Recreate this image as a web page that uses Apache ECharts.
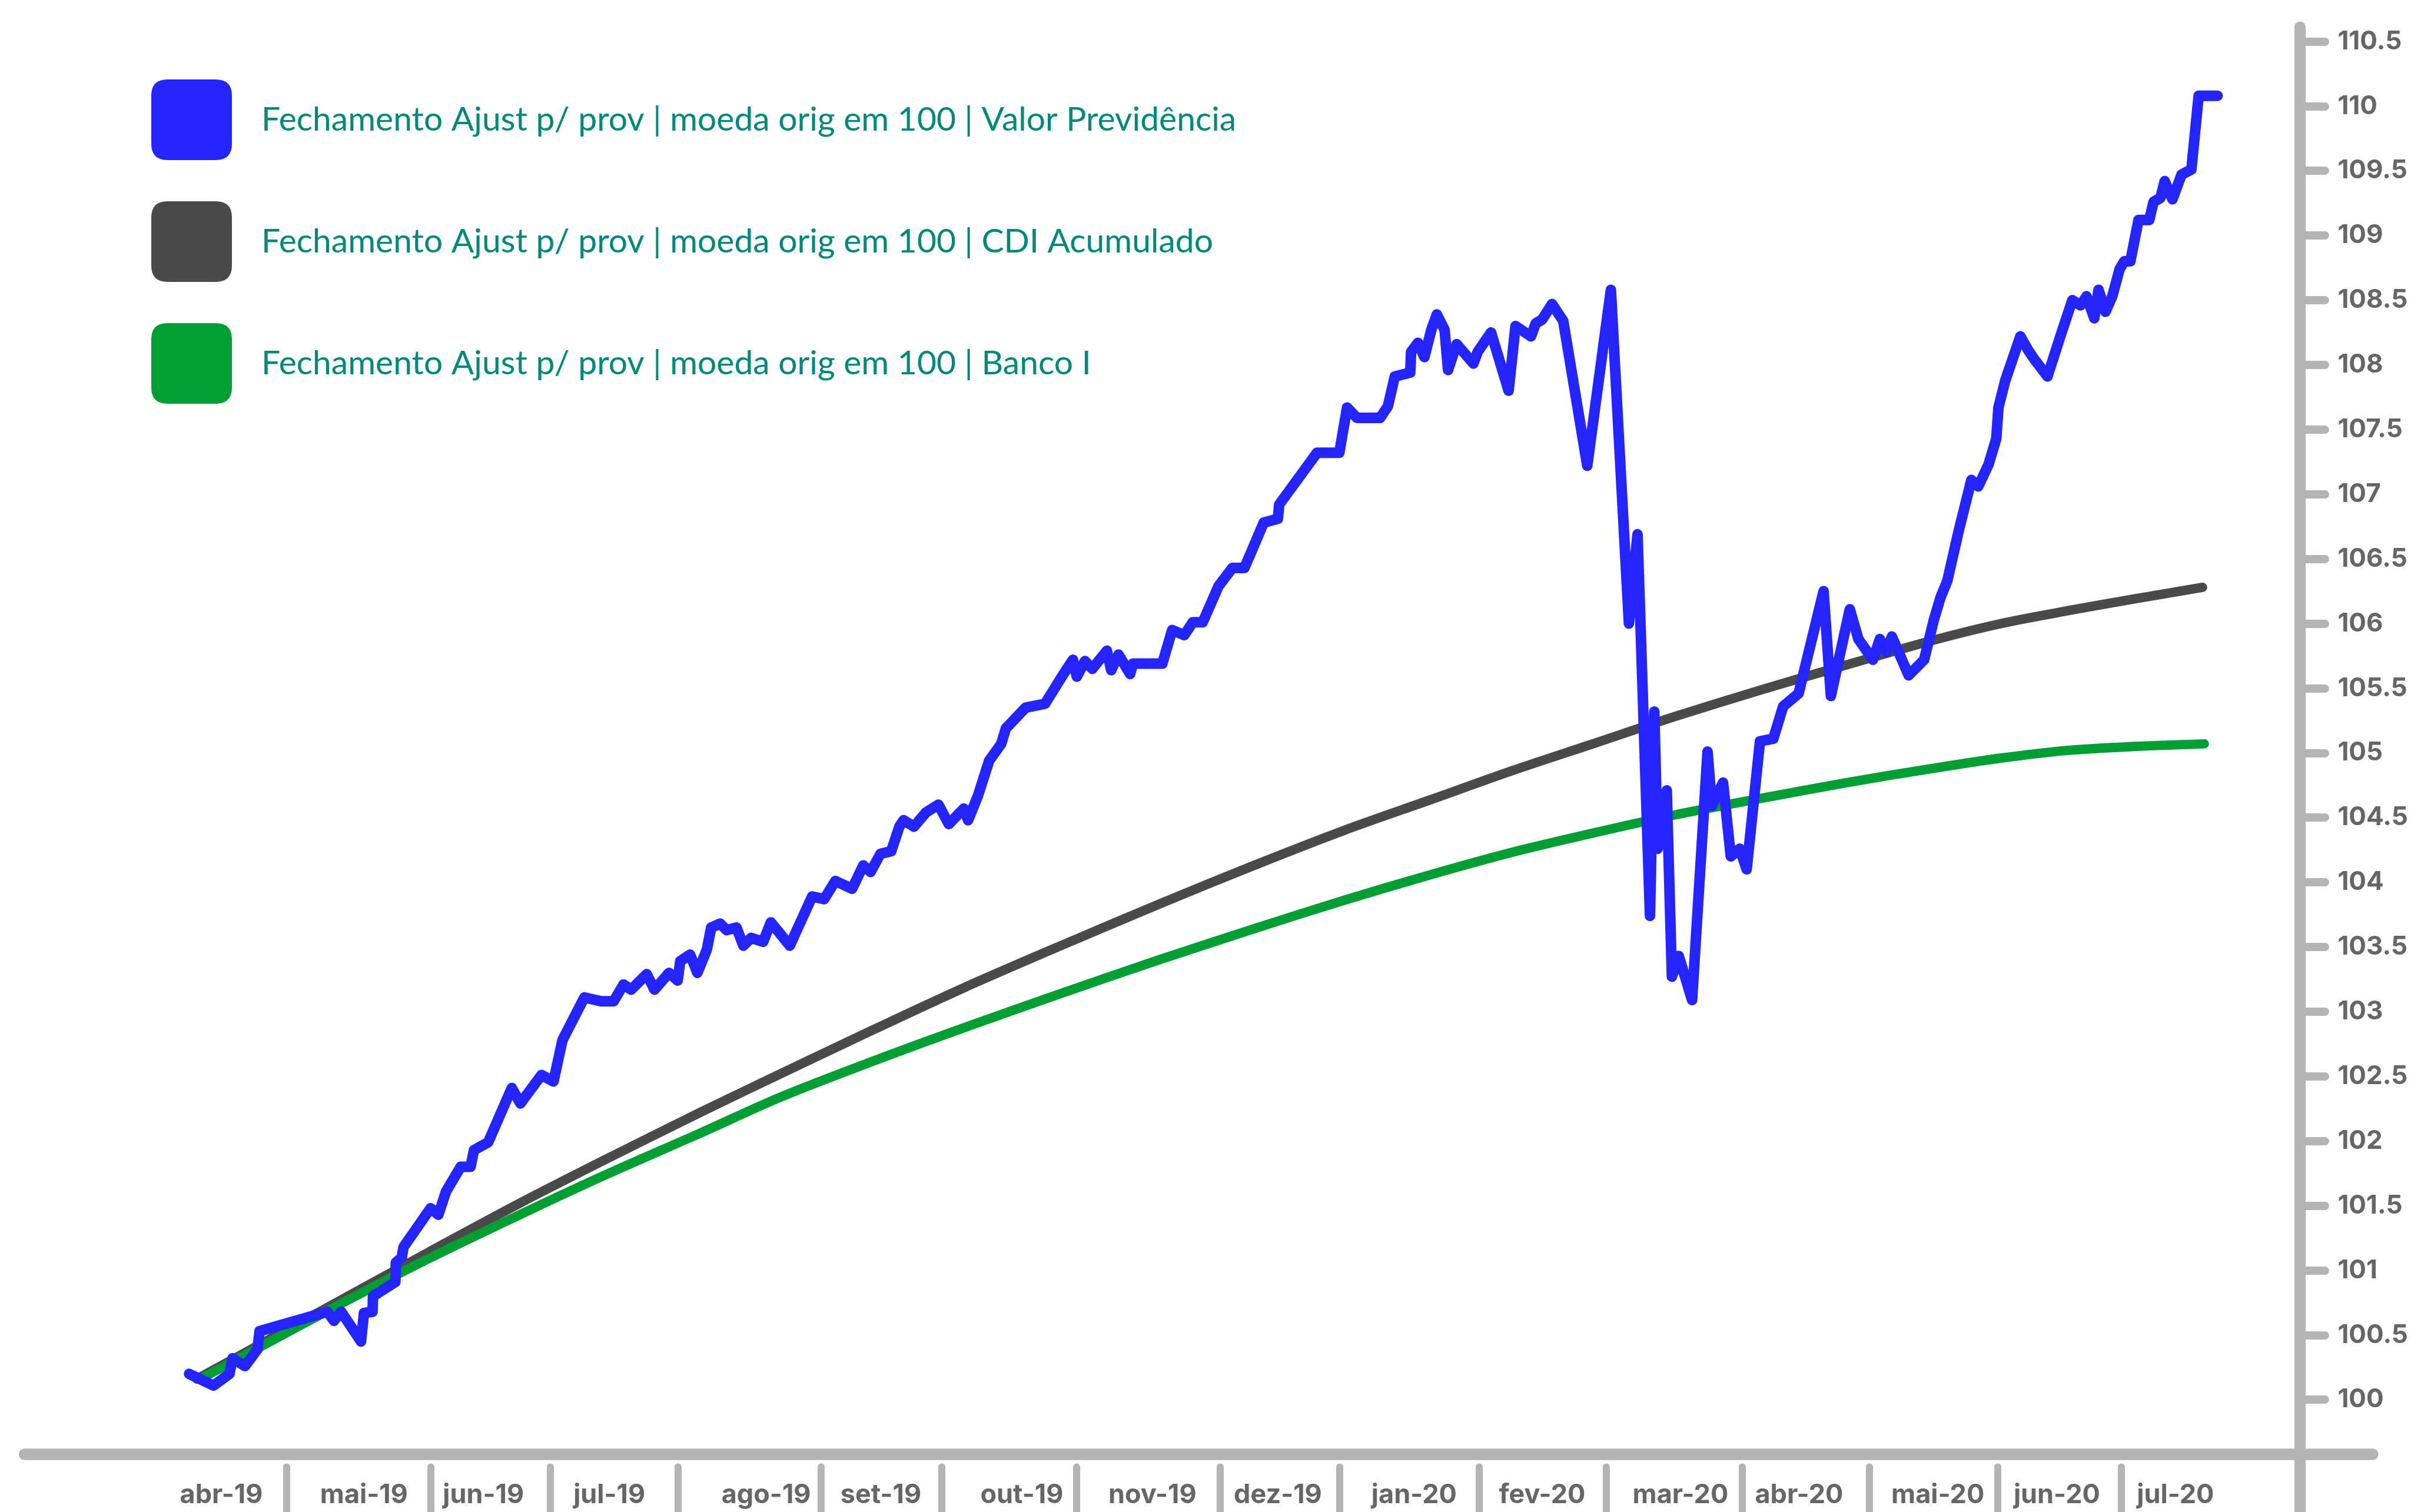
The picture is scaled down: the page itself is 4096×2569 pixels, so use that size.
<!DOCTYPE html>
<html>
<head>
<meta charset="utf-8">
<title>Valor Previdência x CDI Acumulado x Banco I</title>
<script src="https://cdn.jsdelivr.net/npm/echarts@6/dist/echarts.min.js"></script>
<style>
html, body { margin: 0; padding: 0; background: #fff; }
#chart { width: 4096px; height: 2569px; }
</style>
</head>
<body>
<div id="chart"></div>
<script>
var valorPrevidencia = [
	[7.3,100.20],[13.0,100.11],[16.7,100.20],[17.4,100.32],[20.3,100.26],[23.2,100.39],[23.7,100.53],
	[39.5,100.68],[41.0,100.61],[42.7,100.68],[47.3,100.45],[48.0,100.67],[50.0,100.68],[50.1,100.80],
	[55.3,100.91],[55.4,101.06],[56.8,101.10],[57.2,101.18],[63.5,101.48],[65.3,101.43],[67.1,101.61],
	[70.5,101.80],[72.8,101.80],[73.6,101.93],[76.9,101.99],[82.4,102.41],[84.4,102.29],[89.3,102.51],
	[92.1,102.46],[94.2,102.78],[99.3,103.11],[103.2,103.08],[106.1,103.08],[108.4,103.21],[110.2,103.17],
	[113.8,103.29],[115.6,103.17],[119.0,103.30],[121.0,103.24],[121.6,103.39],[123.9,103.44],[125.6,103.30],
	[127.8,103.48],[128.8,103.65],[130.9,103.68],[132.4,103.63],[134.7,103.65],[136.3,103.51],[138.1,103.57],
	[140.9,103.54],[142.7,103.69],[147.1,103.51],[152.3,103.89],[155.1,103.87],[157.7,104.01],[161.6,103.95],
	[164.2,104.13],[165.9,104.08],[168.2,104.22],[170.7,104.24],[172.6,104.43],[173.6,104.48],[176.0,104.43],
	[178.8,104.54],[181.7,104.60],[184.1,104.45],[187.6,104.57],[188.6,104.48],[190.9,104.67],[193.5,104.94],
	[196.3,105.07],[197.4,105.19],[202.0,105.35],[206.5,105.38],[210.8,105.61],[213.0,105.72],[213.9,105.59],
	[215.8,105.71],[217.5,105.65],[220.9,105.79],[221.9,105.64],[223.6,105.76],[226.3,105.61],[227.0,105.69],
	[233.8,105.69],[236.1,105.95],[238.9,105.91],[240.9,106.01],[243.2,106.01],[246.9,106.29],[250.1,106.43],
	[252.9,106.43],[255.1,106.60],[257.4,106.78],[260.7,106.81],[261.0,106.92],[269.8,107.32],[275.0,107.32],
	[276.8,107.67],[279.1,107.59],[284.5,107.59],[286.3,107.68],[287.9,107.91],[291.5,107.94],[291.7,108.10],
	[293.3,108.17],[294.8,108.06],[296.4,108.27],[297.7,108.39],[299.5,108.27],[300.3,107.96],[302.3,108.16],
	[306.2,108.01],[307.2,108.10],[310.3,108.25],[314.4,107.80],[316.0,108.30],[319.6,108.22],[320.7,108.32],
	[322.2,108.35],[324.5,108.47],[327.1,108.34],[332.7,107.22],[338.2,108.58],[342.4,106.00],[344.4,106.69],
	[347.3,103.74],[348.3,105.32],[349.1,104.26],[351.2,104.71],[352.4,103.27],[354.0,103.43],[357.1,103.09],
	[360.7,105.01],[361.7,104.59],[364.3,104.77],[366.1,104.20],[368.2,104.26],[369.8,104.10],[372.9,105.09],
	[376.0,105.11],[378.3,105.36],[381.9,105.46],[387.7,106.25],[389.4,105.44],[393.8,106.11],[395.8,105.88],
	[399.2,105.72],[400.8,105.88],[402.3,105.78],[403.6,105.90],[407.5,105.60],[411.1,105.72],[413.3,106.02],
	[414.9,106.20],[416.5,106.33],[419.1,106.71],[422.1,107.11],[423.7,107.06],[426.1,107.23],[427.9,107.43],
	[428.4,107.67],[430.0,107.88],[433.5,108.22],[435.2,108.12],[436.6,108.05],[439.8,107.91],[442.8,108.22],
	[445.6,108.50],[447.5,108.46],[448.9,108.53],[450.7,108.36],[451.7,108.58],[453.3,108.41],[454.9,108.53],
	[456.6,108.74],[457.7,108.80],[459.1,108.80],[461.0,109.12],[463.5,109.12],[464.5,109.26],[466.1,109.29],
	[467.1,109.42],[468.9,109.28],[471.0,109.47],[473.3,109.51],[475.0,110.08],[479.4,110.08]
];
var cdiAcumulado = [
	[9.1,100.16],[24.5,100.44],[42.6,100.77],[63.0,101.14],[84.9,101.53],[105.0,101.87],[126.2,102.22],
	[145.0,102.52],[165.9,102.85],[188.0,103.19],[210.2,103.51],[233.0,103.83],[255.1,104.13],[276.0,104.40],
	[296.4,104.64],[315.0,104.86],[334.0,105.07],[353.0,105.28],[373.4,105.49],[393.0,105.68],[413.1,105.87],
	[429.0,106.00],[444.7,106.10],[460.0,106.19],[475.9,106.28]
];
var bancoI = [
	[11.0,100.18],[24.5,100.42],[43.1,100.75],[63.0,101.09],[84.9,101.44],[105.0,101.75],[126.2,102.06],
	[145.0,102.34],[165.9,102.61],[188.0,102.88],[210.2,103.14],[233.0,103.40],[255.1,103.64],[276.0,103.86],
	[296.4,104.06],[315.0,104.23],[334.0,104.38],[353.0,104.52],[373.4,104.65],[393.0,104.77],[413.1,104.88],
	[429.0,104.96],[444.7,105.02],[460.0,105.05],[476.3,105.07]
];

// marcas de virada de mês e posição dos rótulos (mesma escala em dias)
var mesesTicks = [30.0, 63.5, 91.3, 121.1, 154.3, 182.4, 213.8, 247.2, 275.1, 307.5, 337.1, 368.7, 398.4, 428.2, 457.0];
var mesesPos = [14.8, 48.0, 75.8, 105.1, 141.6, 168.3, 201.1, 231.5, 260.7, 292.4, 322.2, 354.4, 382.0, 414.3, 442.0, 469.6];
var mesesNomes = ['abr-19', 'mai-19', 'jun-19', 'jul-19', 'ago-19', 'set-19', 'out-19', 'nov-19', 'dez-19',
	'jan-20', 'fev-20', 'mar-20', 'abr-20', 'mai-20', 'jun-20', 'jul-20'];
var yTicks = [100, 100.5, 101, 101.5, 102, 102.5, 103, 103.5, 104, 104.5, 105, 105.5,
	106, 106.5, 107, 107.5, 108, 108.5, 109, 109.5, 110, 110.5];

var nomes = [
	'Fechamento Ajust p/ prov | moeda orig em 100 | Valor Previdência',
	'Fechamento Ajust p/ prov | moeda orig em 100 | CDI Acumulado',
	'Fechamento Ajust p/ prov | moeda orig em 100 | Banco I'
];
var cores = ['#2424ff', '#4a4a4a', '#009e33'];

// limites: fim das linhas dos eixos
var xMin = -31.0, xMax = 515.5;
var yMin = 99.132, yMax = 110.611;

var axisGray = '#b4b4b4';
var labelGray = '#666666';
var roundBox = 'path://M20,0L80,0Q100,0,100,20L100,80Q100,100,80,100L20,100Q0,100,0,80L0,20Q0,0,20,0Z';

var chart = echarts.init(document.getElementById('chart'), null, { renderer: 'canvas' });

function lineSerie(idx, data, width, z, smooth) {
	return {
		name: nomes[idx],
		type: 'line',
		data: data,
		xAxisIndex: 0,
		yAxisIndex: 0,
		showSymbol: false,
		symbol: 'none',
		smooth: smooth,
		z: z,
		color: cores[idx],
		itemStyle: { color: cores[idx] },
		lineStyle: { color: cores[idx], width: width, cap: 'round', join: 'round' },
		emphasis: { disabled: true }
	};
}

var option = {
	backgroundColor: '#ffffff',
	animation: false,
	legend: {
		orient: 'vertical',
		left: 252,
		top: 130,
		itemWidth: 137,
		itemHeight: 137,
		itemGap: 70,
		icon: roundBox,
		selectedMode: false,
		data: nomes,
		textStyle: {
			color: '#00897b',
			fontFamily: 'Lato',
			fontSize: 57,
			padding: [0, 0, 0, 45]
		}
	},
	grid: {
		left: 41.7,
		right: 65.1,
		top: 46,
		bottom: 0,
		containLabel: false
	},
	xAxis: [{
		// linha do eixo x
		type: 'value',
		position: 'bottom',
		min: xMin,
		max: xMax,
		offset: -98.5,
		axisLine: { show: true, onZero: false, lineStyle: { color: axisGray, width: 19.5, cap: 'round' } },
		axisTick: { show: false },
		axisLabel: { show: false },
		splitLine: { show: false }
	}, {
		// marcas dos meses e rótulos, separados da linha
		type: 'value',
		position: 'bottom',
		min: xMin,
		max: xMax,
		offset: -76.6,
		axisLine: { show: false, onZero: false },
		axisTick: {
			show: true,
			customValues: mesesTicks,
			length: 110,
			lineStyle: { color: axisGray, width: 12, cap: 'round' }
		},
		axisLabel: {
			show: true,
			customValues: mesesPos,
			margin: 48,
			verticalAlign: 'middle',
			color: labelGray,
			fontFamily: 'Inter',
			fontWeight: 700,
			fontSize: 45,
			formatter: function (val) {
				var i = mesesPos.indexOf(val);
				return i < 0 ? '' : mesesNomes[i];
			}
		},
		splitLine: { show: false }
	}],
	yAxis: [{
		type: 'value',
		position: 'right',
		min: yMin,
		max: yMax,
		offset: -124,
		axisLine: { show: true, onZero: false, lineStyle: { color: axisGray, width: 19, cap: 'round' } },
		axisTick: {
			show: true,
			customValues: yTicks,
			length: 43,
			lineStyle: { color: axisGray, width: 14, cap: 'round' }
		},
		axisLabel: {
			show: true,
			customValues: yTicks,
			margin: 64.5,
			color: labelGray,
			fontFamily: 'Inter',
			fontWeight: 700,
			fontSize: 44,
			formatter: function (val) { return String(val); }
		},
		splitLine: { show: false }
	}],
	series: [
		lineSerie(0, valorPrevidencia, 18, 4, false),
		lineSerie(1, cdiAcumulado, 16, 2, 0.3),
		lineSerie(2, bancoI, 16, 3, 0.3)
	]
};

chart.setOption(option);
</script>
</body>
</html>
